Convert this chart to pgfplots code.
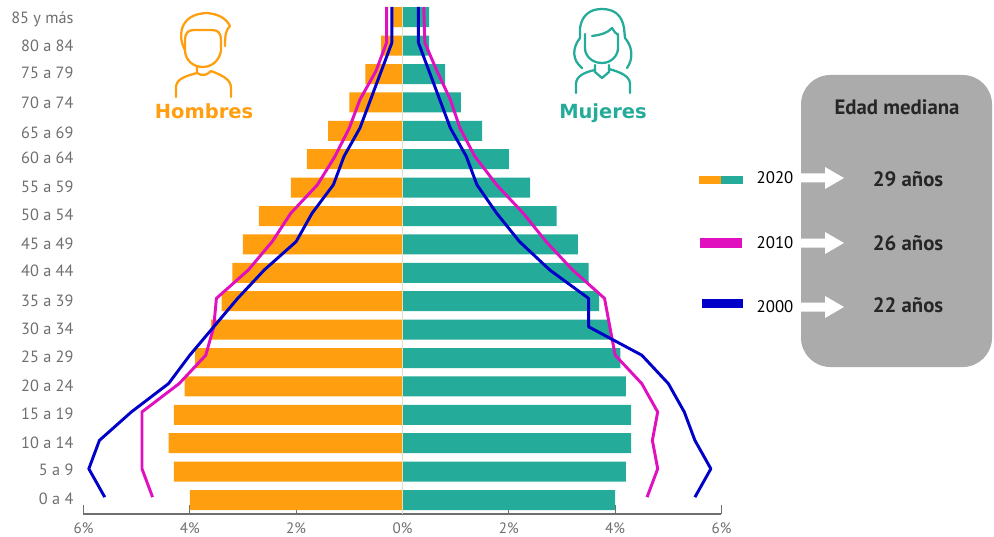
\documentclass[border=0pt]{standalone}
\usepackage{fontspec}
\setmainfont{PT Sans}
\newfontfamily\headfont{DejaVu Sans}
\usepackage{pgfplots}
\pgfplotsset{compat=1.18}

\definecolor{hombres}{HTML}{FF9E0F}
\definecolor{mujeres}{HTML}{24AB9A}
\definecolor{rosa}{HTML}{E010BE}
\definecolor{azul}{HTML}{0000C8}
\definecolor{panel}{HTML}{ABABAB}
\definecolor{ejes}{HTML}{6E6E6E}
\definecolor{centro}{HTML}{E4DFC0}

\begin{document}
\begin{tikzpicture}[x=1pt,y=1pt]
\path[use as bounding box] (-62.625pt,-16.5pt) rectangle ++(745.5pt,402pt);
\begin{axis}[
    at={(0pt,0pt)},
    anchor=south west,
    scale only axis,
    width=478.5pt,
    height=385.5pt,
    xmin=-6, xmax=6,
    ymin=-0.493, ymax=17.606,
    axis x line=bottom,
    axis y line=left,
    axis line style={-, ejes, line width=1.2pt},
    y axis line style={draw=none},
    xtick={-6,-4,-2,0,2,4,6},
    xticklabels={6\%,4\%,2\%,0\%,2\%,4\%,6\%},
    ytick={0.04,1.06,2.01,3.03,4.01,5.04,6.02,7.01,8.06,9.01,10.04,11.02,12.04,12.92,13.98,15.04,15.99,16.97},
    yticklabels={0 a 4,5 a 9,10 a 14,15 a 19,20 a 24,25 a 29,30 a 34,35 a 39,40 a 44,45 a 49,50 a 54,55 a 59,60 a 64,65 a 69,70 a 74,75 a 79,80 a 84,85 y más},
    tick align=inside,
    major tick length=6.75pt,
    x tick style={ejes, line width=0.8pt},
    y tick style={draw=none},
    tick label style={text=ejes},
    xticklabel style={font=\fontsize{11.3}{12}\selectfont, yshift=-3pt},
    yticklabel style={font=\fontsize{12.2}{13}\selectfont, anchor=east, xshift=-4pt, text height=8.5pt, text depth=0pt},
    clip=false,
]
% poblacion 2020, barras
\addplot[xbar, bar width=15pt, bar shift=0pt, draw=none, fill=hombres] coordinates {
    (-4.0,0) (-4.3,1) (-4.4,2) (-4.3,3) (-4.1,4) (-3.9,5) (-3.6,6) (-3.4,7) (-3.2,8)
    (-3.0,9) (-2.7,10) (-2.1,11) (-1.8,12) (-1.4,13) (-1.0,14) (-0.7,15) (-0.4,16) (-0.2,17)};
\addplot[xbar, bar width=15pt, bar shift=0pt, draw=none, fill=mujeres] coordinates {
    (4.0,0) (4.2,1) (4.3,2) (4.3,3) (4.2,4) (4.1,5) (3.9,6) (3.7,7) (3.5,8)
    (3.3,9) (2.9,10) (2.4,11) (2.0,12) (1.5,13) (1.1,14) (0.8,15) (0.5,16) (0.5,17)};
\addplot[centro, line width=0.8pt] coordinates {(0,-0.493) (0,17.35)};
% 2010
\addplot[rosa, line width=2.2pt, line join=round] coordinates {
    (-4.7,0.1) (-4.9,1.1) (-4.9,2.1) (-4.9,3.1) (-4.2,4.1) (-3.7,5.1) (-3.55,6.1) (-3.5,7.1) (-2.9,8.1)
    (-2.45,9.1) (-2.1,10.1) (-1.6,11.1) (-1.27,12.1) (-1.0,13.1) (-0.8,14.1) (-0.5,15.1) (-0.3,16.1) (-0.3,17.36)};
\addplot[rosa, line width=2.2pt, line join=round] coordinates {
    (4.6,0.1) (4.8,1.1) (4.7,2.1) (4.8,3.1) (4.5,4.1) (4.0,5.1) (3.9,6.1) (3.8,7.1) (3.2,8.1)
    (2.7,9.1) (2.27,10.1) (1.77,11.1) (1.36,12.1) (1.08,13.1) (0.9,14.1) (0.65,15.1) (0.42,16.1) (0.4,17.36)};
% 2000
\addplot[azul, line width=2.2pt, line join=round] coordinates {
    (-5.6,0.1) (-5.9,1.1) (-5.7,2.1) (-5.1,3.1) (-4.4,4.1) (-4.0,5.1) (-3.55,6.1) (-3.1,7.1) (-2.6,8.1)
    (-2.0,9.1) (-1.7,10.1) (-1.3,11.1) (-1.1,12.1) (-0.8,13.1) (-0.6,14.1) (-0.4,15.1) (-0.2,16.1) (-0.2,17.36)};
\addplot[azul, line width=2.2pt, line join=round] coordinates {
    (5.5,0.1) (5.8,1.1) (5.5,2.1) (5.3,3.1) (5.0,4.1) (4.5,5.1) (3.5,6.1) (3.5,7.1) (2.77,8.1)
    (2.2,9.1) (1.77,10.1) (1.4,11.1) (1.2,12.1) (0.9,13.1) (0.7,14.1) (0.5,15.1) (0.3,16.1) (0.3,17.36)};
\end{axis}

% el resto va en pixeles de la imagen
\begin{scope}[shift={(-62.625pt,385.5pt)}, x=0.75pt, y=-0.75pt]
\fill[panel, rounded corners=22pt] (801,75) rectangle (992,367);
\foreach \yy in {178,243,307}
    \fill[white] (800,\yy-4.5) -- (825,\yy-4.5) -- (825,\yy-11) -- (844,\yy) -- (825,\yy+11) -- (825,\yy+4.5) -- (800,\yy+4.5) -- cycle;
\fill[hombres] (699,176) rectangle (721,184);
\fill[mujeres] (721,176) rectangle (743,184);
\fill[rosa] (700,238) rectangle (742,248);
\fill[azul] (702,299) rectangle (743,308);
\node[font=\fontsize{12.6}{14}\selectfont] at (775,178) {2020};
\node[font=\fontsize{12.6}{14}\selectfont] at (775,243) {2010};
\node[font=\fontsize{12.6}{14}\selectfont] at (775,307) {2000};
\node[font=\fontsize{15.6}{17}\selectfont\bfseries, text=black!85] at (897,107) {Edad mediana};
\node[font=\fontsize{15.6}{17}\selectfont\bfseries, text=black!85] at (908,179) {29 años};
\node[font=\fontsize{15.6}{17}\selectfont\bfseries, text=black!85] at (908,243) {26 años};
\node[font=\fontsize{15.6}{17}\selectfont\bfseries, text=black!85] at (908,305) {22 años};
\node[font=\headfont\fontsize{14.6}{16}\selectfont\bfseries, text=hombres] at (204,111) {Hombres};
\node[font=\headfont\fontsize{14.6}{16}\selectfont\bfseries, text=mujeres] at (603,113) {Mujeres};
% hombre
\begin{scope}[hombres, line width=1.7pt, line cap=round, line join=round]
\draw (185,50) .. controls (178,38) and (178,14) .. (207,13) .. controls (218,14) and (226,18) .. (230,26) .. controls (226,30) and (225,34) .. (225,46);
\draw (185,40) .. controls (185,33) and (188,30) .. (194,30) -- (212,30) .. controls (218,30) and (221,33) .. (221,40) -- (221,50) .. controls (220,60) and (212,67) .. (203,67) .. controls (193,67) and (185,60) .. (185,50) -- cycle;
\draw (176,97) -- (176,88) .. controls (176,80) and (182,77) .. (197,73) -- (197,67);
\draw (197,73) .. controls (202,76) and (206,76) .. (211,71);
\draw (231,97) -- (231,88) .. controls (231,80) and (224,76) .. (211,71);
\end{scope}
% mujer
\begin{scope}[mujeres, line width=1.7pt, line cap=round, line join=round]
\draw (582,68) .. controls (572,60) and (572,48) .. (580,38) -- (580,28) .. controls (582,15) and (590,9) .. (602,9) .. controls (614,9) and (622,15) .. (624,28) -- (625,38) .. controls (632,46) and (634,58) .. (627,68);
\draw (585,34) -- (585,48) .. controls (585,56) and (592,63) .. (602,63) .. controls (611,63) and (618,56) .. (618,48) -- (618,34);
\draw (592,36) .. controls (600,35) and (608,33) .. (612,28) .. controls (613,31) and (616,33) .. (618,35);
\draw (595,65) -- (595,72) -- (602,78) -- (609,72) -- (609,65);
\draw (576,93) -- (576,84) .. controls (576,76) and (585,72) .. (595,70);
\draw (630,93) -- (630,84) .. controls (630,76) and (620,72) .. (609,69);
\end{scope}
\end{scope}
\end{tikzpicture}
\end{document}
